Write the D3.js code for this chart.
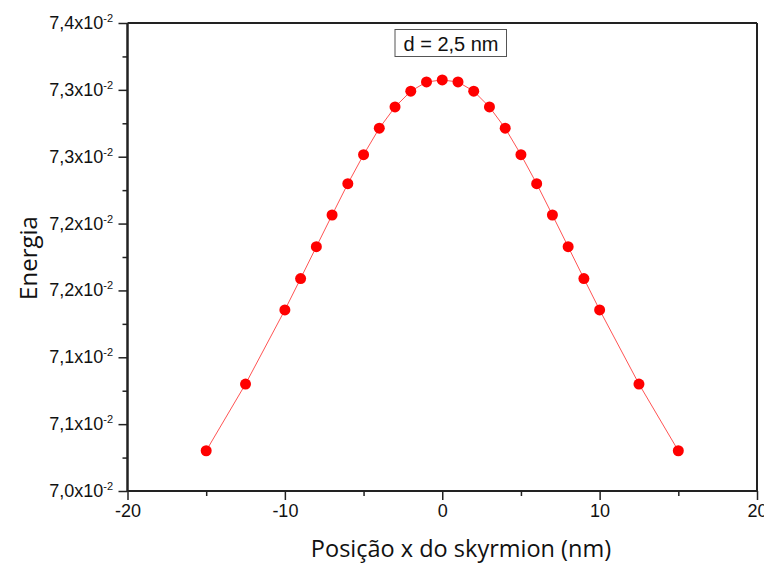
<!DOCTYPE html>
<html><head><meta charset="utf-8">
<script src="https://cdn.jsdelivr.net/npm/d3@7"></script>
<style>body{margin:0;background:#fff}svg{display:block}</style>
</head><body>
<svg id="c" width="764" height="565"></svg>
<script>
const xPos = [-15,-12.5,-10,-9,-8,-7,-6,-5,-4,-3,-2,-1,0,1,2,3,4,5,6,7,8,9,10,12.5,15];
const energy = [0.070301,0.070800,0.071354,0.071589,0.071827,0.072064,0.072298,0.072515,0.072713,0.072872,0.072990,0.073059,0.073074,
                0.073059,0.072990,0.072872,0.072713,0.072515,0.072298,0.072064,0.071827,0.071589,0.071354,0.070800,0.070301];
const xTicks = [-20,-10,0,10,20];
const xMinorTicks = [-15,-5,5,15];
const yTicks = [0.0700,0.0705,0.0710,0.0715,0.0720,0.0725,0.0730,0.0735];
const yTickLabels = ["7,0","7,1","7,1","7,2","7,2","7,3","7,3","7,4"];
const yMinorTicks = [0.07025,0.07075,0.07125,0.07175,0.07225,0.07275,0.07325];
const annotation = "d = 2,5 nm";

const L=127.5,R=757,T=23,B=491;
const svg=d3.select("#c");
const x=d3.scaleLinear().domain([-20,20]).range([L,R]);
const y=d3.scaleLinear().domain([0.0700,0.0735]).range([B,T]);
const axisColor="#222";
const font="Liberation Sans, Arial, sans-serif";

// line
svg.append("path").datum(xPos.map((d,i)=>[d,energy[i]]))
  .attr("fill","none").attr("stroke","#ff4040").attr("stroke-width",0.9)
  .attr("d",d3.line().x(d=>x(d[0])).y(d=>y(d[1])));
svg.selectAll("circle.pt").data(xPos).join("circle").attr("class","pt")
  .attr("cx",d=>x(d)).attr("cy",(d,i)=>y(energy[i])).attr("r",5.5).attr("fill","#ff0000");

// frame top/right
svg.append("line").attr("x1",L).attr("x2",R).attr("y1",T).attr("y2",T).attr("stroke",axisColor).attr("stroke-width",2);
svg.append("line").attr("x1",R).attr("x2",R).attr("y1",T).attr("y2",B).attr("stroke",axisColor).attr("stroke-width",2);

// x axis
const xa=svg.append("g").attr("transform",`translate(0,${B})`)
  .call(d3.axisBottom(x).tickValues(xTicks).tickSize(9).tickPadding(4).tickFormat(d=>String(d)));
const xm=svg.append("g").attr("transform",`translate(0,${B})`)
  .call(d3.axisBottom(x).tickValues(xMinorTicks).tickSize(5).tickFormat(""));
// y axis
const ya=svg.append("g").attr("transform",`translate(${L},0)`)
  .call(d3.axisLeft(y).tickValues(yTicks).tickSize(9).tickPadding(5).tickFormat(""));
const ym=svg.append("g").attr("transform",`translate(${L},0)`)
  .call(d3.axisLeft(y).tickValues(yMinorTicks).tickSize(5).tickFormat(""));
[xa,xm,ya,ym].forEach(g=>{
  g.select(".domain").attr("stroke",axisColor).attr("stroke-width",2).attr("d", g===xa||g===xm?`M${L},0H${R}`:`M0,${B}V${T}`);
  g.selectAll(".tick line").attr("stroke",axisColor).attr("stroke-width",1.5);
});
xa.selectAll(".tick text").attr("font-family",font).attr("font-size",18).attr("fill","#111");

// y tick labels with superscript
const yl=svg.append("g");
yTicks.forEach((v,i)=>{
  const t=yl.append("text").attr("x",113).attr("y",y(v)+6).attr("text-anchor","end")
    .attr("font-family",font).attr("font-size",18).attr("fill","#111");
  t.append("tspan").text(yTickLabels[i]+"x10");
  t.append("tspan").attr("dy",-7).attr("font-size",11).text("-2");
});

// axis titles
svg.append("text").attr("x",461).attr("y",557).attr("text-anchor","middle")
  .attr("font-family","Open Sans, sans-serif").attr("font-size",23.5).attr("fill","#111")
  .text("Posição x do skyrmion (nm)");
svg.append("text").attr("transform","translate(37,258) rotate(-90)").attr("text-anchor","middle")
  .attr("font-family","Open Sans, sans-serif").attr("font-size",24).attr("fill","#111")
  .text("Energia");

// annotation box
const box=svg.append("rect").attr("x",395).attr("y",29.5).attr("width",111.5).attr("height",27)
  .attr("fill","#fff").attr("stroke","#555").attr("stroke-width",1);
svg.append("text").attr("x",451).attr("y",50.5).attr("text-anchor","middle")
  .attr("font-family",font).attr("font-size",20).attr("fill","#111").text(annotation);
</script>
</body></html>
